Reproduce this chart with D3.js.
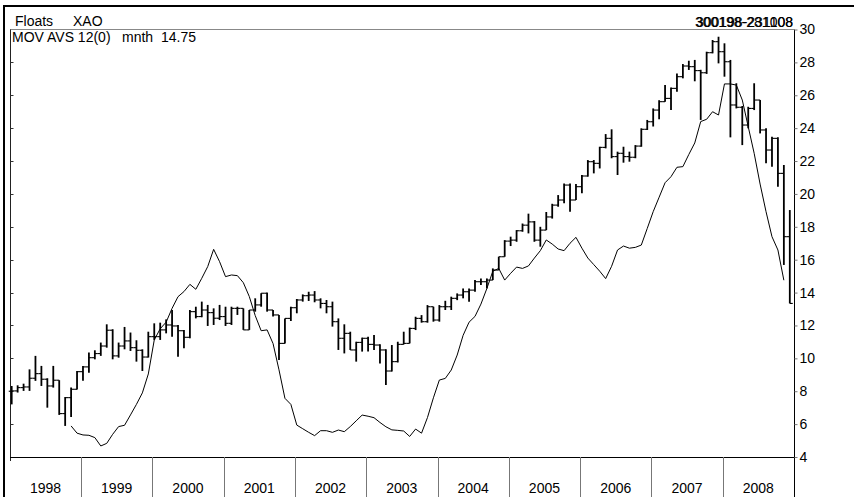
<!DOCTYPE html>
<html>
<head>
<meta charset="utf-8">
<script src="https://cdn.jsdelivr.net/npm/d3@7"></script>
<style>
  body { margin: 0; background: #fff; }
  svg { display: block; }
  text { font-family: "Liberation Sans", Arial, sans-serif; fill: #000; }
</style>
</head>
<body>
<script>
// monthly bars, Jan 1998 .. Oct 2008
const highs = [8.32,8.36,8.46,9.33,10.15,9.54,8.79,9.54,8.67,7.65,8.22,9.23,9.54,10.35,10.49,10.96,12.07,11.77,10.96,11.91,11.57,11.10,10.55,
  11.62,12.13,12.17,12.37,12.94,12.03,11.73,12.94,13.14,13.45,13.25,13.04,13.25,13.14,13.14,13.14,13.04,12.94,13.65,13.96,14.0,12.94,12.64,
  12.43,13.14,13.61,13.89,14.05,14.09,13.65,13.55,13.45,12.43,12.07,11.62,11.01,11.26,11.32,11.42,10.85,10.55,10.81,11.01,11.62,11.87,12.53,
  12.63,13.24,13.14,13.24,13.5,13.75,13.95,14.25,14.25,14.76,14.86,14.86,15.47,16.18,17.19,17.40,17.8,18.2,18.8,18.35,18.0,18.9,19.4,19.93,
  20.64,20.64,20.6,21.15,22.06,22.06,22.87,23.64,23.93,22.57,22.87,22.57,22.97,23.99,24.5,25.2,25.7,26.62,26.48,27.33,27.9,28.1,28.15,27.55,
  28.65,29.36,29.56,29.16,28.15,26.73,25.35,25.3,26.73,25.71,23.99,23.48,23.44,21.76,19.02];
const lows = [7.20,7.92,8.02,8.02,8.63,8.32,7.00,8.22,6.56,5.89,6.43,8.10,8.63,9.13,9.94,10.15,10.65,9.94,10.04,10.55,10.45,9.80,9.23,
  10.05,11.12,11.12,11.52,11.32,10.10,10.61,11.22,12.43,12.50,11.97,12.03,12.33,11.97,12.03,12.64,11.73,11.73,12.84,13.14,12.84,12.54,9.90,
  10.91,12.27,12.74,13.45,13.49,13.41,13.04,12.74,11.93,10.51,10.30,10.51,9.80,10.41,10.41,10.51,9.69,8.38,9.20,9.75,10.85,10.91,11.72,
  12.17,12.17,12.23,12.23,12.94,12.94,13.54,13.65,13.44,14.05,14.46,14.25,14.76,15.37,16.18,16.83,17.09,17.7,17.6,17.09,16.79,17.8,18.5,19.22,
  19.43,18.92,19.63,20.04,21.05,21.25,21.55,22.77,22.17,21.15,21.9,21.96,22.17,22.87,23.89,24.1,24.54,25.61,25.1,26.22,27.03,27.54,26.85,24.5,
  27.3,28.55,27.94,27.13,23.44,25.2,22.97,23.99,25.1,23.68,21.86,21.66,20.44,15.68,13.34];
const closes = [8.02,8.22,8.26,8.79,9.07,8.73,8.32,8.67,6.64,7.61,8.12,9.19,9.48,10.04,10.29,10.75,11.71,10.15,10.75,11.06,10.65,10.49,10.08,
  11.32,11.32,11.73,12.03,11.97,11.68,11.28,12.84,12.54,12.94,12.78,12.44,12.54,12.13,13.04,13.04,11.73,12.94,13.25,13.96,12.94,12.64,10.91,
  12.43,13.08,13.55,13.81,13.85,13.55,13.34,13.14,12.23,11.22,11.52,10.51,10.97,11.22,10.85,10.81,10.51,9.23,9.80,10.85,10.91,11.82,12.43,
  12.23,13.14,12.33,13.14,13.14,13.65,13.85,14.05,14.15,14.66,14.66,14.76,15.37,16.18,17.13,17.19,17.76,18.1,18.3,17.19,17.8,18.6,19.32,19.63,
  20.54,19.63,20.44,21.09,21.96,21.86,22.83,23.38,22.27,22.47,22.27,22.23,22.91,23.93,24.39,25.1,25.61,25.81,26.42,27.13,27.78,27.74,27.5,27.37,
  28.59,29.26,28.65,28.04,25.41,25.27,24.19,25.2,25.71,23.89,22.67,23.38,21.25,17.4,13.34];
const firstOpen = 8.0;

// 12 month moving average, starts at bar 10
const maStart = 10;
const maVals = [5.89,5.45,5.34,5.32,5.18,4.67,4.83,5.38,5.85,5.93,
  6.56,7.2,7.9,9.05,11.12,11.8,12.2,13.04,13.75,14.06,
  14.5,14.2,14.87,15.58,16.63,15.88,14.97,15.07,15.03,14.6,
  13.76,12.6,11.68,11.73,10.9,9.3,7.57,7.2,5.94,5.72,
  5.5,5.3,5.6,5.6,5.5,5.64,5.54,5.85,6.2,6.55,
  6.48,6.39,6.1,5.84,5.65,5.62,5.58,5.25,5.7,5.45,
  6.4,7.6,8.68,8.78,9.29,10.2,11.4,12.2,12.55,13.3,
  14.25,15.3,15.47,14.76,15.17,15.55,15.47,15.62,16.1,16.55,
  17.2,16.95,16.65,16.55,17.0,17.36,16.7,16.1,15.7,15.3,
  14.85,15.6,16.59,16.83,16.7,16.75,16.89,17.9,18.92,19.8,
  20.68,21.05,21.62,21.66,22.4,23.1,24.4,24.54,25.0,24.8,
  26.69,26.69,26.62,25.71,24.09,22.47,20.6,18.92,17.4,16.59,
  14.75];

const years = [1998,1999,2000,2001,2002,2003,2004,2005,2006,2007,2008];
const yTicks = [4,6,8,10,12,14,16,18,20,22,24,26,28,30];

const W = 854, H = 497;
const plot = { left: 10, right: 794, top: 29.5, bottom: 457 };

const svg = d3.select('body').append('svg')
  .attr('width', W)
  .attr('height', H);

// scales
const x = d3.scaleLinear().domain([0, closes.length - 1]).range([11.7, 789.8]);
const y = d3.scaleLinear().domain([4, 30]).range([plot.bottom, plot.top]);
const xYear = d3.scaleLinear().domain([1999, 2008]).range([81, 722.7]);
const half = (x(1) - x(0)) / 2;

// outer frame
svg.append('line').attr('x1', 3).attr('x2', W).attr('y1', 6).attr('y2', 6)
  .attr('stroke', '#000').attr('stroke-width', 2);
svg.append('line').attr('x1', 4).attr('x2', 4).attr('y1', 5).attr('y2', H)
  .attr('stroke', '#000').attr('stroke-width', 2);

// plot box
svg.append('line').attr('x1', plot.left).attr('x2', plot.right).attr('y1', 29.5).attr('y2', 29.5)
  .attr('stroke', '#888').attr('stroke-width', 1);
svg.append('line').attr('x1', 10.5).attr('x2', 10.5).attr('y1', 29.5).attr('y2', 461)
  .attr('stroke', '#222').attr('stroke-width', 1);
svg.append('line').attr('x1', plot.left).attr('x2', plot.right).attr('y1', 457.5).attr('y2', 457.5)
  .attr('stroke', '#000').attr('stroke-width', 1.2);
svg.append('line').attr('x1', 794.5).attr('x2', 794.5).attr('y1', 29.5).attr('y2', H)
  .attr('stroke', '#000').attr('stroke-width', 1);

// right axis
const yAxis = svg.append('g')
  .attr('transform', 'translate(794.5,0)')
  .call(d3.axisRight(y).tickValues(yTicks).tickSize(3).tickPadding(2).tickSizeOuter(0));
yAxis.select('.domain').remove();
yAxis.selectAll('line').attr('stroke', '#777');
yAxis.selectAll('text').style('font-size', '14px').attr('font-family', null);

// small inner ticks on the left edge
svg.append('g').selectAll('line')
  .data(yTicks.slice(1, -1))
  .join('line')
  .attr('x1', 10.5).attr('x2', 13.5)
  .attr('y1', d => Math.round(y(d)) + 0.5).attr('y2', d => Math.round(y(d)) + 0.5)
  .attr('stroke', '#333');

// year band
svg.append('g').selectAll('line')
  .data(years.slice(1))
  .join('line')
  .attr('x1', d => Math.round(xYear(d)) + 0.5).attr('x2', d => Math.round(xYear(d)) + 0.5)
  .attr('y1', 457).attr('y2', H)
  .attr('stroke', '#777');

svg.append('g').selectAll('text')
  .data(years)
  .join('text')
  .attr('x', d => (Math.max(plot.left, xYear(d)) + Math.min(plot.right, xYear(d + 1))) / 2)
  .attr('y', 493)
  .attr('text-anchor', 'middle')
  .style('font-size', '14px')
  .text(d => d);

// price bars
const bars = svg.append('g').attr('stroke', '#000');
closes.forEach((c, i) => {
  const open = i > 0 ? closes[i - 1] : firstOpen;
  const xi = x(i);
  bars.append('line')
    .attr('x1', xi).attr('x2', xi)
    .attr('y1', y(highs[i])).attr('y2', y(lows[i]))
    .attr('stroke-width', 1.8);
  bars.append('line')
    .attr('x1', xi - half).attr('x2', xi)
    .attr('y1', y(open)).attr('y2', y(open))
    .attr('stroke-width', 1.1);
  bars.append('line')
    .attr('x1', xi).attr('x2', xi + half)
    .attr('y1', y(c)).attr('y2', y(c))
    .attr('stroke-width', 1.1);
});

// moving average
const maLine = d3.line()
  .x((d, i) => x(i + maStart))
  .y(d => y(d));
svg.append('path')
  .datum(maVals)
  .attr('fill', 'none')
  .attr('stroke', '#000')
  .attr('stroke-width', 1)
  .attr('d', maLine);

// header texts
svg.append('text').attr('x', 15).attr('y', 26).style('font-size', '14px').text('Floats');
svg.append('text').attr('x', 73).attr('y', 26).style('font-size', '14px').text('XAO');
svg.append('text').attr('x', 793).attr('y', 26.5).attr('text-anchor', 'end')
  .style('font-size', '14px').text('300198-231108');
svg.append('text').attr('x', 793).attr('y', 26.5).attr('text-anchor', 'end')
  .style('font-size', '14px').text('300198-281008');

svg.append('text').attr('x', 12).attr('y', 42).style('font-size', '14px').text('MOV AVS 12(0)');
svg.append('text').attr('x', 122).attr('y', 42).style('font-size', '14px').text('mnth');
svg.append('text').attr('x', 161).attr('y', 42).style('font-size', '14px')
  .text(maVals[maVals.length - 1].toFixed(2));
</script>
</body>
</html>
